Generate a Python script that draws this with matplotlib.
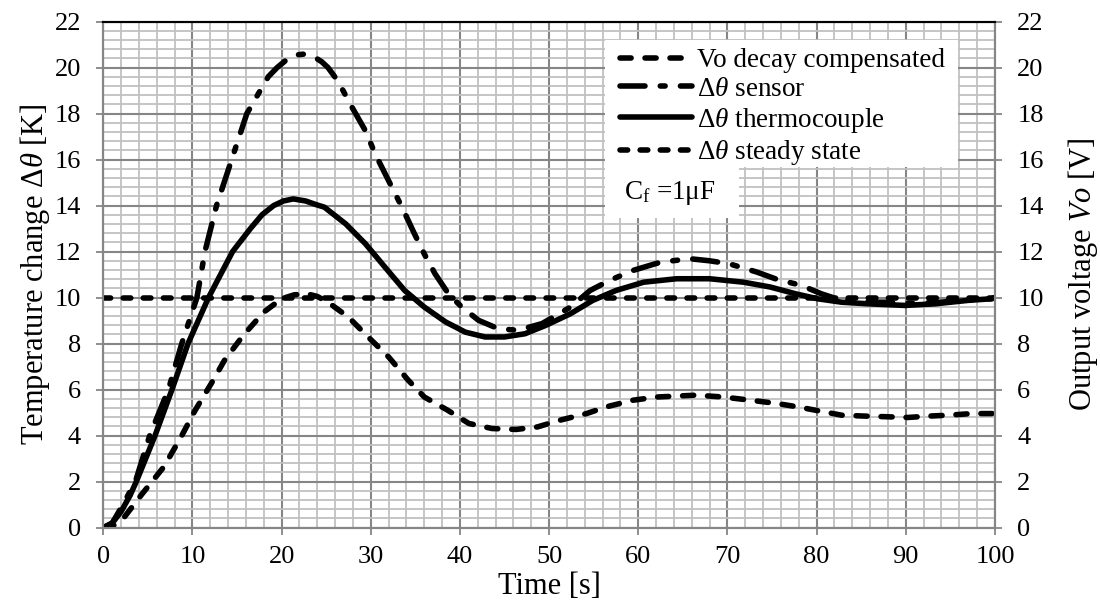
import numpy as np
import matplotlib
matplotlib.use('Agg')
import matplotlib.pyplot as plt
from matplotlib.patches import Rectangle

plt.rcParams['font.family'] = ['Liberation Serif', 'DejaVu Serif']
plt.rcParams['mathtext.fontset'] = 'custom'
plt.rcParams['mathtext.rm'] = 'Liberation Serif'
plt.rcParams['mathtext.it'] = 'Liberation Serif:italic'
plt.rcParams['mathtext.bf'] = 'Liberation Serif:bold'
plt.rcParams['lines.scale_dashes'] = False

# Pomiary: termopara [K]
tc_t = [0, 1, 2, 3, 3.7, 5.8, 7.7, 9.5, 11.8, 14.5, 16.5, 17.8, 19.1, 20.2, 21.3, 22.7,
        23.8, 24.8, 27.2, 29.4, 31.6, 33.8, 36.0, 38.4, 40.6, 42.8, 45.0, 47.3, 49.6,
        52.4, 54.9, 57.5, 60.6, 64.3, 68.0, 71.8, 74.8, 77.6, 80.1, 82.8, 85.8, 89.9,
        93.3, 97.0, 99.6, 100]
tc_v = [0, 0.2, 0.7, 1.4, 2.0, 4.0, 6.0, 8.0, 10.0, 12.0, 13.0, 13.6, 14.0, 14.2, 14.29,
        14.2, 14.05, 13.93, 13.2, 12.34, 11.32, 10.31, 9.59, 8.94, 8.5, 8.29, 8.29, 8.43,
        8.79, 9.3, 9.88, 10.31, 10.67, 10.82, 10.82, 10.67, 10.46, 10.17, 9.95, 9.8,
        9.73, 9.66, 9.73, 9.88, 9.95, 10.0]

# Czujnik [K]
sensor_t = [0, 1, 2.2, 3.6, 5.2, 7.3, 8.8, 10.5, 11.4, 12.7, 14.4, 16.1, 17.6, 18.5, 19.5,
            20.9, 21.7, 22.4, 23.1, 23.7, 24.5, 25.2, 26.3, 27.9, 29.4, 30.5, 32.0, 33.5,
            34.9, 36.0, 37.2, 38.7, 40.2, 42.1, 44.3, 46.5, 49.2, 52.4, 54.6, 56.8, 59.4,
            62.5, 65.8, 68.0, 70.2, 73.3, 75.5, 78.3, 80.5, 82.8, 85.1, 87.8, 90.8, 93.9,
            96.9, 99.6, 100]
sensor_v = [0, 0.2, 1.0, 2.0, 4.0, 6.0, 8.0, 10.0, 12.0, 14.0, 16.0, 18.0, 19.0, 19.6,
            20.0, 20.45, 20.55, 20.58, 20.55, 20.45, 20.25, 20.0, 19.42, 18.27, 17.25,
            16.24, 15.08, 13.93, 12.77, 11.9, 11.04, 10.17, 9.59, 9.01, 8.65, 8.58, 8.87,
            9.59, 10.31, 10.75, 11.18, 11.54, 11.69, 11.6, 11.47, 11.11, 10.8, 10.53,
            10.17, 9.88, 9.8, 9.8, 9.75, 9.8, 9.9, 9.95, 10.0]

# Napiecie wyjsciowe Vo po kompensacji [V]
vo_t = [0, 1, 2.4, 4.4, 6.8, 8.8, 10.3, 12.1, 13.6, 15.7, 18.0, 20.0, 21.4, 22.8, 24.0,
        25.2, 27.5, 29.7, 32.0, 34.2, 36.0, 38.6, 41.0, 43.6, 46.3, 48.7, 51.2, 54.2,
        56.4, 59.4, 62.1, 66.5, 69.5, 72.6, 75.5, 77.9, 79.8, 82.8, 85.4, 88.0, 90.2,
        92.6, 94.8, 97.4, 99.6, 100]
vo_v = [0, 0.05, 0.48, 1.49, 2.65, 4.0, 5.1, 6.26, 7.28, 8.36, 9.37, 9.95, 10.12, 10.17,
        10.05, 9.8, 9.15, 8.29, 7.42, 6.41, 5.68, 5.11, 4.53, 4.31, 4.27, 4.38, 4.67,
        4.96, 5.25, 5.54, 5.68, 5.76, 5.68, 5.54, 5.4, 5.25, 5.11, 4.89, 4.85, 4.82,
        4.79, 4.85, 4.89, 4.96, 4.96, 4.97]

# Stan ustalony
steady_t = [0, 100]
steady_v = [10, 10]

fig = plt.figure(figsize=(11, 6.03), dpi=100)
ax = fig.add_axes([0.0939, 0.1249, 0.8106, 0.8394])
ax2 = ax.twinx()

lw = 4
common = dict(color='black', lw=lw, solid_capstyle='round', dash_capstyle='round',
              solid_joinstyle='round', dash_joinstyle='round')

l_vo, = ax2.plot(vo_t, vo_v, dashes=(8, 10), label='Vo decay compensated', **common)
l_sensor, = ax.plot(sensor_t, sensor_v, dashes=(18, 11, 3.5, 11),
                    label=r'$\mathit{Δθ}$ sensor', **common)
l_tc, = ax.plot(tc_t, tc_v, label=r'$\mathit{Δθ}$ thermocouple', **common)
l_steady, = ax.plot(steady_t, steady_v, dashes=(5.5, 9),
                    label=r'$\mathit{Δθ}$ steady state', **common)

for a in (ax, ax2):
    a.set_xlim(0, 100)
    a.set_ylim(0, 22)
    a.set_yticks(np.arange(0, 23, 2))
    for s in a.spines.values():
        s.set_color('#868686')
        s.set_linewidth(1.5)
    a.spines['top'].set_color('black')
    a.tick_params(which='major', direction='out', length=5, width=1.3,
                  color='#868686', labelsize=19, pad=11)

ax.set_xticks(np.arange(0, 101, 10))
ax.set_xticks(np.arange(0, 101, 2), minor=True)
ax.set_yticks(np.arange(0, 22.01, 0.4), minor=True)
ax.tick_params(which='minor', length=0)
ax.tick_params(axis='x', pad=8)
ax.set_axisbelow(True)
ax.grid(which='minor', color='#c0c0c0', lw=1.3)
ax.grid(which='major', color='#868686', lw=1.5)

ax.set_xlabel('Time [s]', fontsize=22, labelpad=3)
ax.set_ylabel(r'Temperature change $\mathit{Δθ}$ [K]', fontsize=22, labelpad=2)
ax2.set_ylabel(r'Output voltage $\mathit{Vo}$ [V]', fontsize=22, labelpad=16)

# białe tło legendy i opisu kondensatora
ax2.add_patch(Rectangle((0.5626, 0.7126), 0.3959, 0.2505, transform=ax2.transAxes,
                        facecolor='white', edgecolor='none', zorder=4))
ax2.add_patch(Rectangle((0.5626, 0.6117), 0.1503, 0.1009, transform=ax2.transAxes,
                        facecolor='white', edgecolor='none', zorder=4))

leg_font = {'family': 'Liberation Serif', 'size': 19.5}
leg = ax2.legend(handles=[l_vo, l_sensor, l_tc, l_steady], loc='upper left',
                 bbox_to_anchor=(0.5795, 0.9477), borderaxespad=0, prop=leg_font,
                 frameon=False, handlelength=2.65, handletextpad=0.2,
                 labelspacing=0.14, borderpad=0)
leg.set_zorder(6)

ax2.text(0.584, 0.662, r'C$_\mathrm{f}$ =1μF', transform=ax2.transAxes,
         fontdict=leg_font, va='center', ha='left', zorder=5)

fig.savefig('out.png', dpi=100)
